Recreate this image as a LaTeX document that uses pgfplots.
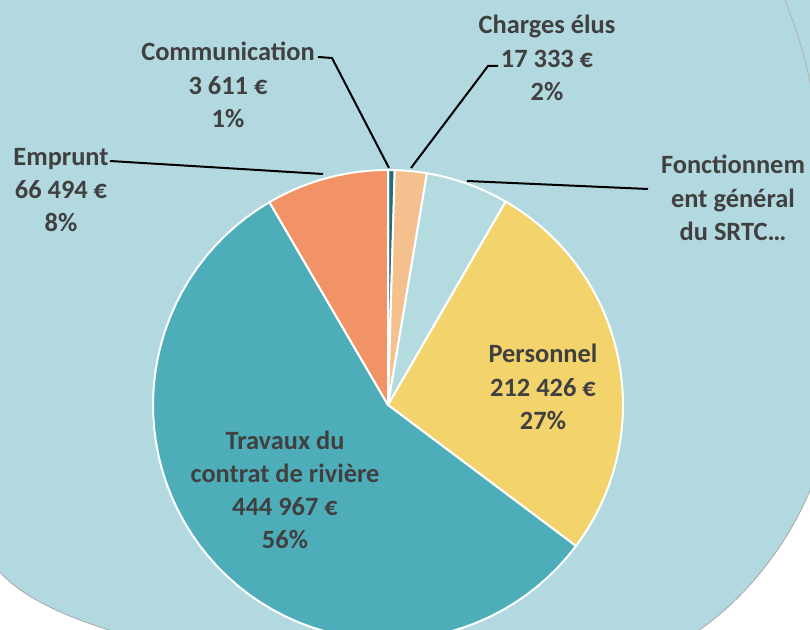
\documentclass[border=0pt]{standalone}
\usepackage{pgfplots}
\usepackage{pgfplotstable}
\pgfplotsset{compat=1.18}
\usepackage{fontspec}
\setmainfont{Carlito}
\definecolor{bgteal}{HTML}{B1D9DF}
\definecolor{cComm}{HTML}{1F6E78}
\definecolor{cChar}{HTML}{F4C08E}
\definecolor{cFonc}{HTML}{B3DBE0}
\definecolor{cPers}{HTML}{F2D36C}
\definecolor{cTrav}{HTML}{4DAEBA}
\definecolor{cEmp}{HTML}{F19367}
\definecolor{txt}{HTML}{404040}

\pgfplotstableread{
name value
Communication 3611
Charges 17333
Fonctionnement 45000
Personnel 212426
Travaux 444967
Emprunt 66494
}\piedata
\pgfplotstablegetelem{0}{value}\of\piedata \edef\vA{\pgfplotsretval}
\pgfplotstablegetelem{1}{value}\of\piedata \edef\vB{\pgfplotsretval}
\pgfplotstablegetelem{2}{value}\of\piedata \edef\vC{\pgfplotsretval}
\pgfplotstablegetelem{3}{value}\of\piedata \edef\vD{\pgfplotsretval}
\pgfplotstablegetelem{4}{value}\of\piedata \edef\vE{\pgfplotsretval}
\pgfplotstablegetelem{5}{value}\of\piedata \edef\vF{\pgfplotsretval}
\edef\tot{\fpeval{\vA+\vB+\vC+\vD+\vE+\vF}}
\edef\bA{90}
\edef\bB{\fpeval{round(\bA-360*\vA/\tot,4)}}
\edef\bC{\fpeval{round(\bB-360*\vB/\tot,4)}}
\edef\bD{\fpeval{round(\bC-360*\vC/\tot,4)}}
\edef\bE{\fpeval{round(\bD-360*\vD/\tot,4)}}
\edef\bF{\fpeval{round(\bE-360*\vE/\tot,4)}}
\edef\bG{-270}

\newcommand{\cx}{388}
\newcommand{\cy}{405}
\newcommand{\rr}{235}
\tikzset{lbl/.style={align=center, text=txt, inner sep=0pt, font=\fontsize{13.2}{16.6}\selectfont\bfseries}}

\begin{document}
\begin{tikzpicture}
\begin{axis}[
  x=0.5pt, y=0.5pt, scale only axis,
  xmin=0, xmax=810, ymin=0, ymax=630, y dir=reverse,
  axis lines=none, clip=true,
  every axis plot/.append style={draw=white, line width=1pt, variable=\t, samples=60, line join=round},
]
% background blob
\fill[bgteal] (axis cs:0,0) rectangle (axis cs:810,630);
\fill[white] (axis cs:0,572) .. controls (axis cs:20,595) and (axis cs:60,615) .. (axis cs:112,631) -- (axis cs:0,631) -- cycle;
\draw[gray!70, line width=0.4pt] (axis cs:0,572) .. controls (axis cs:20,595) and (axis cs:60,615) .. (axis cs:112,631);
\fill[white] (axis cs:811,488) .. controls (axis cs:790,540) and (axis cs:750,595) .. (axis cs:698,631) -- (axis cs:811,631) -- cycle;
\draw[gray!70, line width=0.4pt] (axis cs:811,488) .. controls (axis cs:790,540) and (axis cs:750,595) .. (axis cs:698,631);
\draw[gray!60, line width=0.4pt] (axis cs:785,0) .. controls (axis cs:795,25) and (axis cs:805,55) .. (axis cs:811,88);

% pie slices
\addplot[fill=cComm, domain=\bB:\bA] ({\cx+\rr*cos(\t)},{\cy-\rr*sin(\t)}) -- (axis cs:\cx,\cy) -- cycle;
\addplot[fill=cChar, domain=\bC:\bB] ({\cx+\rr*cos(\t)},{\cy-\rr*sin(\t)}) -- (axis cs:\cx,\cy) -- cycle;
\addplot[fill=cFonc, domain=\bD:\bC] ({\cx+\rr*cos(\t)},{\cy-\rr*sin(\t)}) -- (axis cs:\cx,\cy) -- cycle;
\addplot[fill=cPers, domain=\bE:\bD] ({\cx+\rr*cos(\t)},{\cy-\rr*sin(\t)}) -- (axis cs:\cx,\cy) -- cycle;
\addplot[fill=cTrav, domain=\bF:\bE] ({\cx+\rr*cos(\t)},{\cy-\rr*sin(\t)}) -- (axis cs:\cx,\cy) -- cycle;
\addplot[fill=cEmp, domain=\bG:\bF] ({\cx+\rr*cos(\t)},{\cy-\rr*sin(\t)}) -- (axis cs:\cx,\cy) -- cycle;

% leader lines
\draw[black, line width=1pt] (axis cs:318,57) -- (axis cs:332,58) -- (axis cs:389,168);
\draw[black, line width=1pt] (axis cs:498,66) -- (axis cs:488,66) -- (axis cs:411,168);
\draw[black, line width=1pt] (axis cs:110,161) -- (axis cs:323,174);
\draw[black, line width=1pt] (axis cs:467,181) -- (axis cs:648,189);

% labels
\node[lbl] at (axis cs:228,85) {Communication\\3 611 €\\1\%};
\node[lbl] at (axis cs:547,58) {Charges élus\\17 333 €\\2\%};
\node[lbl] at (axis cs:61,190) {Emprunt\\66 494 €\\8\%};
\node[lbl] at (axis cs:733,198) {Fonctionnem\\ent général\\du SRTC…};
\node[lbl] at (axis cs:543,387) {Personnel\\212 426 €\\27\%};
\node[lbl] at (axis cs:285,490) {Travaux du\\contrat de rivière\\444 967 €\\56\%};
\end{axis}
\end{tikzpicture}
\end{document}
